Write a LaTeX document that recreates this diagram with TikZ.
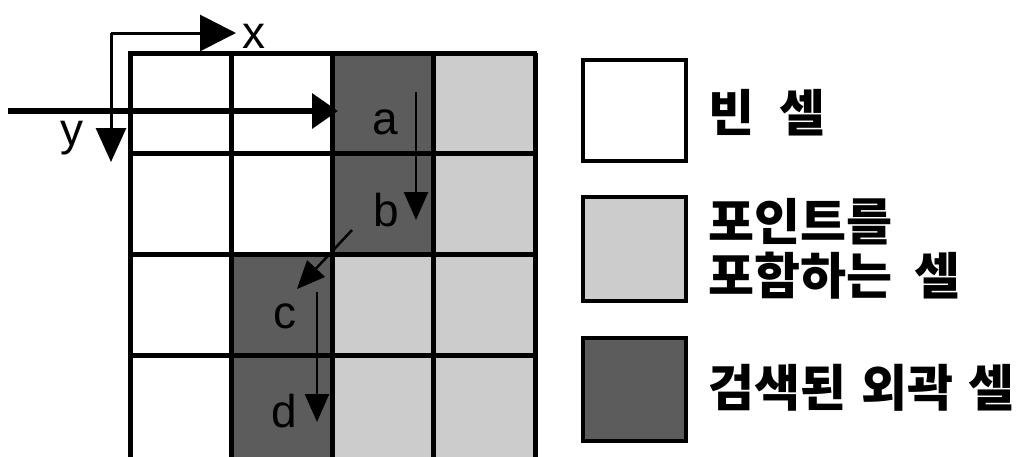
\documentclass[tikz,border=0pt]{standalone}
\usepackage{fontspec}
\setmainfont{Liberation Sans}
\newfontfamily\kr{Noto Sans CJK KR}
\usetikzlibrary{arrows.meta}
\definecolor{darkcell}{gray}{0.36}
\definecolor{lightcell}{gray}{0.80}
\tikzset{
  gridline/.style={line width=5pt},
  emptycell/.style={fill=white},
  pointcell/.style={fill=lightcell},
  hullcell/.style={fill=darkcell},
  axis/.style={line width=3pt},
  walk/.style={line width=2.5pt, -{Triangle[length=28pt,width=24pt]}},
  lbl/.style={font=\fontsize{46}{46}\selectfont, inner sep=0pt},
  krtext/.style={font=\kr\bfseries\fontsize{50}{54}\selectfont, inner sep=0pt, anchor=west, align=left},
  legbox/.style={line width=4pt, draw=black}
}
\begin{document}
\begin{tikzpicture}[x=1pt,y=-1pt]
\useasboundingbox (0,0) rectangle (1026,456);
\begin{scope}
\clip (0,0) rectangle (1026,456);
% cells: columns 130,231,332,433,535 ; rows 53,153,254,355,456
\fill[hullcell] (332,53) rectangle (433,254);
\fill[pointcell] (433,53) rectangle (535,254);
\fill[hullcell] (231,254) rectangle (332,470);
\fill[pointcell] (332,254) rectangle (535,470);
% grid lines
\foreach \xx in {130,231,332,433,535} \draw[gridline] (\xx,53) -- (\xx,470);
\foreach \yy in {53,153,254,355} \draw[gridline] (128,\yy) -- (537,\yy);
\end{scope}
% axes
\coordinate (o) at (111,33);
\coordinate (xe) at (236,33);
\coordinate (ye) at (111,162);
\draw[axis,-{Triangle[length=36pt,width=36pt]}] (o) -- (xe);
\draw[axis,-{Triangle[length=34pt,width=30pt]}] (o) -- (ye);
\node[lbl] (xl) at (254,36) {x};
\node[lbl] (yl) at (72,138) {y};
% thick search arrow
\coordinate (s0) at (8,111);
\coordinate (s1) at (338,111);
\draw[line width=6.5pt,-{Triangle[length=26pt,width=34pt]}] (s0) -- (s1);
% labels a-d
\node[lbl] (a) at (385,122) {a};
\node[lbl] (b) at (386,210) {b};
\node[lbl] (c) at (285,316) {c};
\node[lbl] (d) at (284,411) {d};
\coordinate (a1) at (416,92);
\coordinate (b1) at (416,220);
\coordinate (b2) at (352,230);
\coordinate (c1) at (297,289);
\coordinate (c2) at (317,292);
\coordinate (d1) at (317,422);
\draw[walk] (a1) -- (b1);
\draw[walk] (b2) -- (c1);
\draw[walk] (c2) -- (d1);
% legend
\draw[legbox, fill=white] (583,60) rectangle (686,161);
\draw[legbox, fill=lightcell] (583,197) rectangle (686,301);
\draw[legbox, fill=darkcell] (583,338) rectangle (686,441);
\node[krtext] (t1) at (708,113) {빈\hspace{0.5em}셀};
\node[krtext] (t2) at (708,249) {포인트를\\포함하는\hspace{0.45em}셀};
\node[krtext] (t3) at (708,388) {검색된\hspace{0.3em}외곽\hspace{0.3em}셀};
\end{tikzpicture}
\end{document}
